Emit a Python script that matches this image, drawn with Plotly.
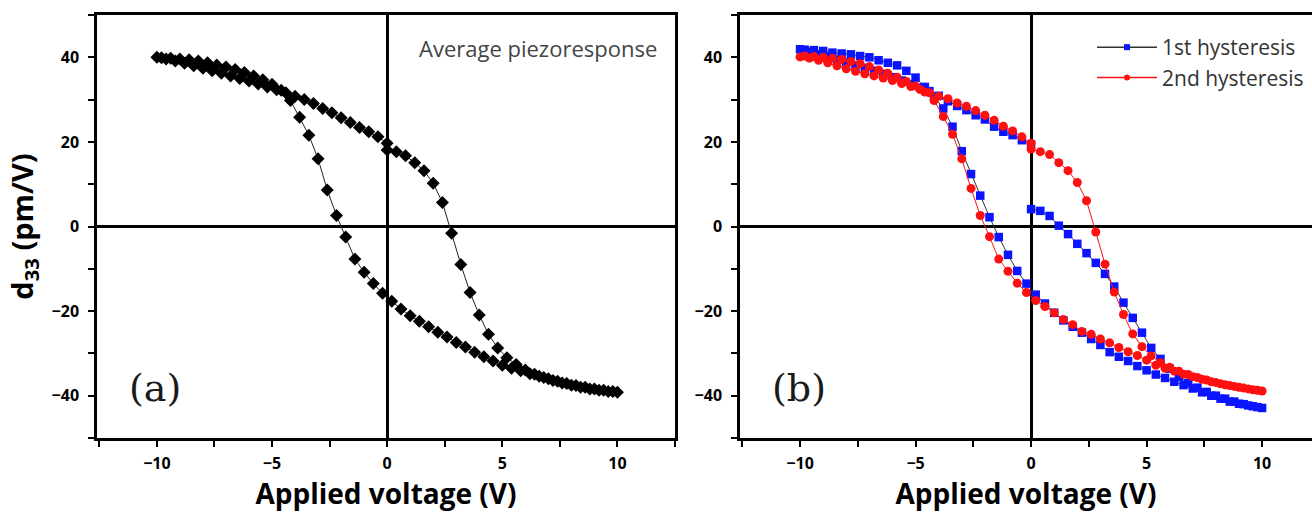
import plotly.graph_objects as go

# ---- voltage sweeps (V) ----
v_fwd = [0.0, 0.4, 0.8, 1.2, 1.6, 2.0, 2.4, 2.8, 3.2, 3.6, 4.0, 4.4, 4.8, 5.2, 5.6, 6.0,
         6.4, 6.8, 7.2, 7.6, 8.0, 8.4, 8.8, 9.2, 9.6, 10.0]
v_back = [9.8, 9.4, 9.0, 8.6, 8.2, 7.8, 7.4, 7.0, 6.6, 6.2, 5.8, 5.4, 5.0, 4.6, 4.2, 3.8,
          3.4, 3.0, 2.6, 2.2, 1.8, 1.4, 1.0, 0.6, 0.2, -0.2, -0.6, -1.0, -1.4, -1.8, -2.2,
          -2.6, -3.0, -3.4, -3.8, -4.2, -4.6, -5.0, -5.4, -5.8, -6.2, -6.6, -7.0, -7.4,
          -7.8, -8.2, -8.6, -9.0, -9.4, -9.8]
v_ret = [-10.0, -9.6, -9.2, -8.8, -8.4, -8.0, -7.6, -7.2, -6.8, -6.4, -6.0, -5.6, -5.2,
         -4.8, -4.4, -4.0, -3.6, -3.2, -2.8, -2.4, -2.0, -1.6, -1.2, -0.8, -0.4, 0.0]

# ---- (a) average piezoresponse d33 (pm/V) ----
avg_fwd = [18.1, 17.7, 16.7, 15.1, 13.2, 10.2, 5.7, -1.6, -9.0, -15.6, -20.9, -25.5, -28.7,
           -31.0, -32.6, -33.9, -34.9, -35.7, -36.4, -37.0, -37.5, -38.0, -38.4, -38.7,
           -39.0, -39.2]
avg_back = [-39.0, -38.7, -38.4, -38.0, -37.6, -37.1, -36.6, -36.0, -35.4, -34.8, -34.1,
            -33.5, -32.8, -31.8, -30.8, -29.7, -28.5, -27.4, -26.1, -25.0, -23.7, -22.4,
            -21.1, -19.5, -17.7, -15.8, -13.5, -10.8, -7.7, -2.5, 2.6, 8.6, 16.0, 21.6,
            25.8, 29.8, 32.2, 33.6, 34.7, 35.6, 36.4, 37.1, 37.7, 38.2, 38.7, 39.1, 39.4,
            39.6, 39.8, 39.9]
avg_ret = [40.0, 39.6, 39.1, 38.6, 38.0, 37.4, 36.8, 36.2, 35.6, 35.0, 34.4, 33.7, 33.0,
           32.3, 31.6, 30.8, 30.0, 29.1, 27.9, 26.9, 25.7, 24.6, 23.4, 22.4, 21.2, 19.7]

# ---- (b) 1st hysteresis ----
h1_fwd = [4.1, 3.7, 2.5, 0.2, -1.8, -4.1, -6.3, -8.6, -11.2, -14.2, -18.0, -21.6, -25.1,
          -28.7, -31.3, -33.6, -35.5, -37.0, -38.1, -39.1, -40.0, -40.7, -41.4, -42.0,
          -42.5, -42.9]
h1_back = [-42.7, -42.3, -41.9, -41.4, -40.7, -40.0, -39.2, -38.3, -37.5, -36.7, -35.8,
           -35.0, -34.0, -33.0, -31.8, -30.8, -29.7, -28.0, -26.6, -25.1, -23.7, -22.2,
           -20.4, -18.2, -16.1, -13.5, -10.5, -6.7, -2.5, 2.2, 7.3, 12.4, 17.8, 23.6, 27.9,
           30.7, 33.0, 35.2, 36.8, 38.1, 38.7, 39.3, 40.0, 40.3, 40.7, 40.9, 41.1, 41.5,
           41.7, 41.8]
h1_ret = [41.9, 41.3, 40.7, 40.1, 39.4, 38.8, 38.1, 37.5, 36.8, 36.1, 35.3, 34.5, 33.6,
          32.8, 32.0, 30.9, 29.6, 28.5, 27.5, 26.3, 25.3, 23.6, 22.4, 21.6, 20.4, 19.4]

# ---- (b) 2nd hysteresis ----
h2_fwd = [18.3, 17.7, 17.0, 15.1, 13.2, 10.4, 6.1, -1.3, -8.9, -15.5, -20.8, -25.4, -28.4,
          -30.6, -32.2, -33.3, -34.2, -35.0, -35.7, -36.3, -36.9, -37.4, -37.8, -38.2,
          -38.6, -38.9]
h2_back = [-38.7, -38.4, -38.0, -37.6, -37.2, -36.7, -36.1, -35.5, -34.9, -34.2, -33.5,
           -32.8, -31.6, -30.5, -29.6, -28.6, -27.5, -26.6, -25.5, -24.8, -23.2, -22.0,
           -20.4, -18.9, -17.5, -15.6, -13.4, -10.6, -7.7, -2.4, 2.6, 9.0, 16.0, 21.8, 26.0,
           29.8, 31.8, 33.2, 34.3, 35.3, 36.2, 37.0, 37.8, 38.5, 39.0, 39.5, 39.8, 40.0,
           40.2, 40.3]
h2_ret = [40.1, 39.8, 39.3, 38.7, 38.0, 37.3, 36.7, 36.1, 35.6, 35.1, 34.5, 33.8, 33.1,
          32.4, 31.6, 30.8, 30.2, 29.2, 28.4, 27.4, 26.3, 25.1, 23.7, 22.6, 21.2, 19.7]

x_ticks = [-10, -5, 0, 5, 10]
y_ticks = [-40, -20, 0, 20, 40]

v_loop = v_fwd + v_back + v_ret

fig = go.Figure()
fig.add_trace(go.Scatter(
    x=v_loop, y=avg_fwd + avg_back + avg_ret, mode="lines+markers",
    line=dict(color="#222222", width=1),
    marker=dict(symbol="diamond", size=10, color="black"),
    showlegend=False, xaxis="x", yaxis="y"))
fig.add_trace(go.Scatter(
    x=v_loop, y=h1_fwd + h1_back + h1_ret, mode="lines+markers",
    line=dict(color="#333333", width=1),
    marker=dict(symbol="square", size=8.5, color="#0a14ff"),
    showlegend=False, xaxis="x2", yaxis="y2"))
fig.add_trace(go.Scatter(
    x=v_loop, y=h2_fwd + h2_back + h2_ret, mode="lines+markers",
    line=dict(color="#ff1010", width=1),
    marker=dict(symbol="circle", size=9, color="#ff1010"),
    showlegend=False, xaxis="x2", yaxis="y2"))
# legend entries
fig.add_trace(go.Scatter(
    x=[None], y=[None], mode="lines+markers", name="1st hysteresis",
    line=dict(color="#333333", width=1.5),
    marker=dict(symbol="square", size=6, color="#0a14ff"),
    xaxis="x2", yaxis="y2"))
fig.add_trace(go.Scatter(
    x=[None], y=[None], mode="lines+markers", name="2nd hysteresis",
    line=dict(color="#ff1010", width=1.5),
    marker=dict(symbol="circle", size=6, color="#ff1010"),
    xaxis="x2", yaxis="y2"))

W, H = 1312, 515
tickfont = dict(family="Open Sans", size=16, color="black", weight=700)
titlefont = dict(family="Open Sans", size=28, color="black", weight=700)

def xaxis(domain, rng, anchor, mirror):
    return dict(domain=domain, range=rng, anchor=anchor, tickvals=x_ticks,
                ticks="outside", ticklen=6, tickwidth=2, tickcolor="black",
                minor=dict(dtick=2.5, tick0=0, ticks="outside", ticklen=6,
                           tickwidth=2, tickcolor="black"),
                showline=True, linecolor="black", linewidth=2.5, mirror=mirror,
                showgrid=False, zeroline=True, zerolinecolor="black",
                zerolinewidth=2.5, tickfont=tickfont, ticklabelstandoff=3,
                title=dict(text="Applied voltage (V)", font=titlefont, standoff=4))

def yaxis(domain, anchor, mirror, title):
    d = dict(domain=domain, range=[-50, 50], anchor=anchor, tickvals=y_ticks,
             ticks="outside", ticklen=6, tickwidth=2, tickcolor="black",
             minor=dict(dtick=10, tick0=0, ticks="outside", ticklen=6,
                        tickwidth=2, tickcolor="black"),
             showline=True, linecolor="black", linewidth=2.5, mirror=mirror,
             showgrid=False, zeroline=True, zerolinecolor="black",
             zerolinewidth=2.5, tickfont=tickfont, ticklabelstandoff=6)
    if title:
        d["title"] = dict(text=title, font=dict(titlefont, size=29), standoff=10)
    return d

ydom = [77 / H, 500 / H]
fig.update_layout(
    width=W, height=H,
    margin=dict(l=0, r=0, t=0, b=0),
    paper_bgcolor="white", plot_bgcolor="white",
    xaxis=xaxis([97 / W, 675 / W], [-12.6, 12.5], "y", True),
    yaxis=yaxis(ydom, "x", True, "d<sub>33</sub> (pm/V)"),
    xaxis2=xaxis([740 / W, 1.0], [-12.6, 12.16], "y2", True),
    yaxis2=yaxis(ydom, "x2", False, None),
    legend=dict(x=1092 / W, y=1 - 27 / H, xanchor="left", yanchor="top",
                bgcolor="rgba(0,0,0,0)", borderwidth=0, itemwidth=60,
                tracegroupgap=0,
                font=dict(family="Open Sans", size=21, color="#333333")),
    annotations=[
        dict(text="Average piezoresponse", xref="paper", yref="paper",
             x=659 / W, y=1 - 48 / H, xanchor="right", yanchor="middle",
             showarrow=False, font=dict(family="Open Sans", size=22, color="#444444")),
        dict(text="(a)", xref="paper", yref="paper", x=155 / W, y=1 - 388 / H,
             xanchor="center", yanchor="middle", showarrow=False,
             font=dict(family="DejaVu Serif", size=38, color="#1a1a1a")),
        dict(text="(b)", xref="paper", yref="paper", x=799 / W, y=1 - 388 / H,
             xanchor="center", yanchor="middle", showarrow=False,
             font=dict(family="DejaVu Serif", size=38, color="#1a1a1a")),
    ],
)

fig.write_html("out.html", config={"displayModeBar": False},
               post_script="document.body.style.margin='0px';")
